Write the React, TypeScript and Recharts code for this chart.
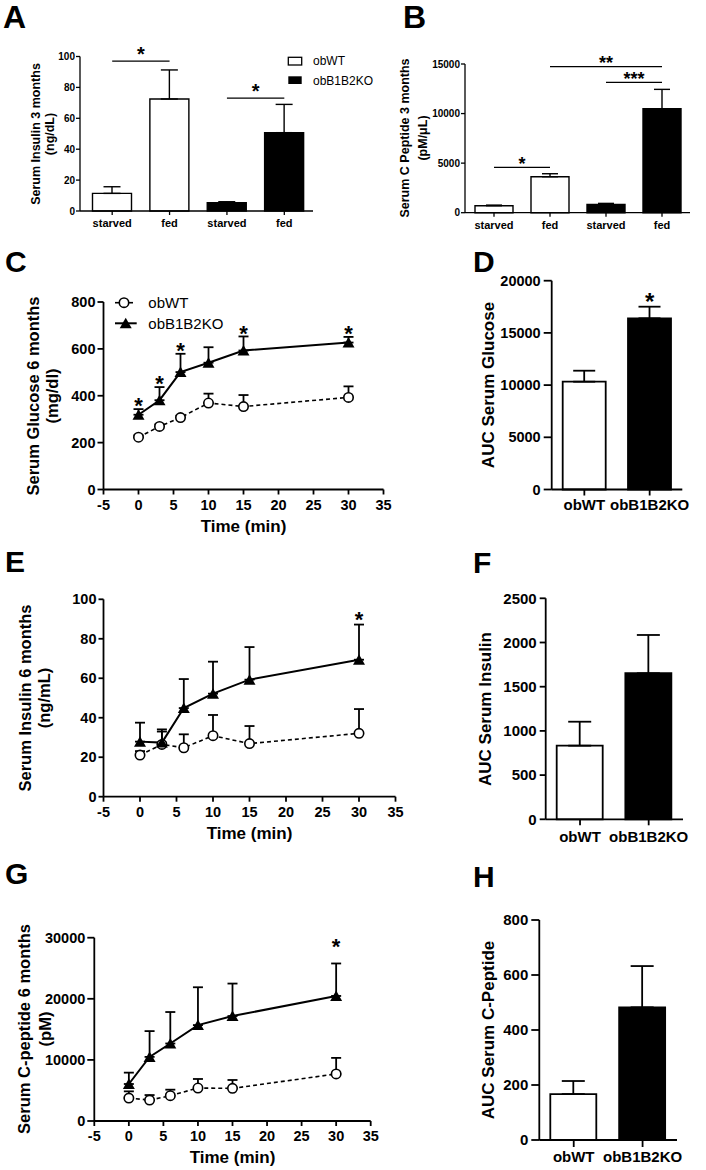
import React from "react";
import {
  BarChart,
  Bar,
  ComposedChart,
  Line,
  XAxis,
  YAxis,
  ErrorBar,
  Cell,
  ReferenceLine,
  ReferenceDot,
} from "recharts";

const W = 706;
const H = 1170;
const Y_W = 50;
const X_H = 50;
const INK = "#000";

// ---- 3 months, starved vs fed (A, B)
const feedGroups = ["obWT|starved", "obWT|fed", "obB1B2KO|starved", "obB1B2KO|fed"];
const insulin3Mean = [11.4, 72.5, 5.4, 50.7];
const insulin3Sem = [4.3, 18.8, 0.6, 18.3];
const cpeptide3Mean = [706, 3631, 840, 10491];
const cpeptide3Sem = [60, 300, 100, 1950];
const insulin3Brackets = [
  { from: "obWT|starved", to: "obWT|fed", y: 97, mark: "*" },
  { from: "obB1B2KO|starved", to: "obB1B2KO|fed", y: 73, mark: "*" },
];
const cpeptide3Brackets = [
  { from: "obWT|starved", to: "obWT|fed", y: 4573, mark: "*" },
  { from: "obWT|fed", to: "obB1B2KO|fed", y: 14728, mark: "**" },
  { from: "obB1B2KO|starved", to: "obB1B2KO|fed", y: 13147, mark: "***" },
];

// ---- 6 months time course (C, E, G)
const minutes = [0, 3, 6, 10, 15, 30];
const timeTicks = [-5, 0, 5, 10, 15, 20, 25, 30, 35];
const glucoseWT = [223, 269, 307, 369, 354, 393];
const glucoseWTSem = [8, 9, 8, 40, 49, 47];
const glucoseKO = [319, 381, 501, 541, 593, 627];
const glucoseKOSem = [24, 56, 78, 66, 60, 24];
const glucoseStars = [0, 3, 6, 15, 30];
const insulinWT = [21.1, 26.5, 24.8, 30.9, 26.9, 32.1];
const insulinWTSem = [2, 6.5, 6.8, 10.5, 8.9, 12.3];
const insulinKO = [27.9, 27.4, 44.9, 52.2, 59.3, 69.4];
const insulinKOSem = [9.6, 6.7, 14.7, 16.2, 16.5, 17.8];
const insulinStars = [30];
const cpeptideWT = [3753, 3425, 4137, 5397, 5342, 7699];
const cpeptideWTSem = [1100, 820, 990, 1480, 1370, 2630];
const cpeptideKO = [6055, 10493, 12685, 15699, 17178, 20466];
const cpeptideKOSem = [1860, 4220, 5150, 6190, 5315, 5315];
const cpeptideStars = [30];

// ---- AUC (D, F, H)
const genotypes = ["obWT", "obB1B2KO"];
const aucGlucose = [10326, 16398];
const aucGlucoseSem = [1053, 1112];
const aucGlucoseStars = ["obB1B2KO"];
const aucInsulin = [833, 1652];
const aucInsulinSem = [271, 433];
const aucCpeptide = [167, 482.5];
const aucCpeptideSem = [47.5, 150];

type Rect = { x0: number; y0: number; x1: number; y1: number };

const layer: React.CSSProperties = { position: "absolute", left: 0, top: 0 };

// every chart covers the whole page, so the plot box is placed through margins
const marginFor = (r: Rect) => ({
  left: r.x0 - Y_W,
  top: r.y0,
  right: W - r.x1,
  bottom: H - r.y1 - X_H,
});

function PanelLetter({ x, y, size = 30, children }: any) {
  return (
    <text x={x} y={y} fontSize={size} fontWeight="bold" fill={INK}>
      {children}
    </text>
  );
}

function AxisTitle({ lines, xs, cy, size }: any) {
  return (
    <g>
      {lines.map((t: string, i: number) => (
        <text
          key={t}
          x={xs[i]}
          y={cy}
          transform={`rotate(-90 ${xs[i]} ${cy})`}
          textAnchor="middle"
          dominantBaseline="central"
          fontSize={size}
          fontWeight="bold"
          fill={INK}
        >
          {t}
        </text>
      ))}
    </g>
  );
}

const starAt = (lift: number, size: number) => (p: any) => (
  <text
    x={p.cx}
    y={p.cy - lift + 0.55 * size}
    textAnchor="middle"
    fontSize={size}
    fontWeight="bold"
    fill={INK}
  >
    *
  </text>
);

const bracketShape = (mark: string, lift: number, size: number, sw: number) => (p: any) => (
  <g>
    <line x1={p.x1} y1={p.y1} x2={p.x2} y2={p.y2} stroke={INK} strokeWidth={sw} />
    <text
      x={(p.x1 + p.x2) / 2}
      y={p.y1 - lift + 0.55 * size}
      textAnchor="middle"
      fontSize={size}
      fontWeight="bold"
      fill={INK}
    >
      {mark}
    </text>
  </g>
);

const Circle = ({ cx, cy }: any) => (
  <circle cx={cx} cy={cy} r={4.7} fill="#fff" stroke={INK} strokeWidth={1.6} />
);
const Triangle = ({ cx, cy }: any) => (
  <polygon
    points={`${cx - 6},${cy + 5} ${cx + 6},${cy + 5} ${cx},${cy - 5.5}`}
    fill={INK}
  />
);

const openCircle = (p: any) =>
  p.cx == null ? <g key={`o${p.index}`} /> : <Circle key={`o${p.index}`} cx={p.cx} cy={p.cy} />;
const solidTriangle = (p: any) =>
  p.cx == null ? <g key={`t${p.index}`} /> : <Triangle key={`t${p.index}`} cx={p.cx} cy={p.cy} />;

function BarPanel(p: any) {
  const data = p.ids.map((id: string, i: number) => ({ id, mean: p.mean[i], err: [0, p.sem[i]] }));
  const axis = { stroke: INK, strokeWidth: p.axisW };
  return (
    <div style={layer}>
      <BarChart width={W} height={H} data={data} margin={marginFor(p.rect)}>
        <XAxis
          dataKey="id"
          type="category"
          height={X_H}
          padding={{ left: p.padL || 0, right: 0 }}
          interval={0}
          tickFormatter={(v: string) => v.split("|").pop() as string}
          tick={{ fill: INK, fontSize: p.xFont, fontWeight: "bold" }}
          tickSize={p.xTick[0]}
          tickMargin={p.xTick[1]}
          axisLine={axis}
          tickLine={axis}
        />
        <YAxis
          type="number"
          width={Y_W}
          domain={[0, p.yTicks[p.yTicks.length - 1]]}
          ticks={p.yTicks}
          interval={0}
          tick={{ fill: INK, fontSize: p.yFont, fontWeight: "bold" }}
          tickSize={p.yTick[0]}
          tickMargin={p.yTick[1]}
          axisLine={axis}
          tickLine={axis}
        />
        <Bar dataKey="mean" barSize={p.barSize} strokeWidth={p.barW} isAnimationActive={false}>
          {data.map((d: any) => (
            <Cell key={d.id} fill={d.id.startsWith("obB1B2KO") ? INK : "#fff"} stroke={INK} />
          ))}
          <ErrorBar dataKey="err" direction="y" width={p.cap} stroke={INK} strokeWidth={p.barW} />
        </Bar>
        {(p.brackets || []).map((b: any) => (
          <ReferenceLine
            key={b.mark + b.from}
            segment={[{ x: b.from, y: b.y }, { x: b.to, y: b.y }]}
            ifOverflow="visible"
            shape={bracketShape(b.mark, p.lift, p.starFont, p.axisW)}
          />
        ))}
        {(p.stars || []).map((id: string) => {
          const i = p.ids.indexOf(id);
          return (
            <ReferenceDot
              key={id}
              x={id}
              y={p.mean[i] + p.sem[i]}
              r={0}
              ifOverflow="visible"
              shape={starAt(p.lift, p.starFont)}
            />
          );
        })}
        {p.children}
      </BarChart>
    </div>
  );
}

function TimePanel(p: any) {
  const data = minutes.map((t, i) => ({
    t,
    wt: p.wt[i],
    wtErr: [0, p.wtSem[i]],
    ko: p.ko[i],
    koErr: [0, p.koSem[i]],
  }));
  const axis = { stroke: INK, strokeWidth: 1.8 };
  const tick = { fill: INK, fontSize: 14.5, fontWeight: "bold" };
  return (
    <div style={layer}>
      <ComposedChart width={W} height={H} data={data} margin={marginFor(p.rect)}>
        <XAxis
          dataKey="t"
          type="number"
          domain={[-5, 35]}
          ticks={timeTicks}
          interval={0}
          height={X_H}
          tick={tick}
          tickSize={5}
          tickMargin={5}
          axisLine={axis}
          tickLine={axis}
          label={{
            value: "Time (min)",
            position: "insideBottom",
            offset: 8,
            fill: INK,
            fontSize: 17,
            fontWeight: "bold",
          }}
        />
        <YAxis
          type="number"
          width={Y_W}
          domain={[0, p.yTicks[p.yTicks.length - 1]]}
          ticks={p.yTicks}
          interval={0}
          tick={tick}
          tickSize={p.yTick[0]}
          tickMargin={p.yTick[1]}
          axisLine={axis}
          tickLine={axis}
        />
        <Line
          dataKey="wt"
          type="linear"
          stroke={INK}
          strokeWidth={1.6}
          strokeDasharray="4 3"
          dot={openCircle}
          activeDot={false}
          isAnimationActive={false}
        >
          <ErrorBar dataKey="wtErr" direction="y" width={5} stroke={INK} strokeWidth={1.8} />
        </Line>
        <Line
          dataKey="ko"
          type="linear"
          stroke={INK}
          strokeWidth={2}
          dot={solidTriangle}
          activeDot={false}
          isAnimationActive={false}
        >
          <ErrorBar dataKey="koErr" direction="y" width={5} stroke={INK} strokeWidth={1.8} />
        </Line>
        {p.stars.map((t: number) => {
          const i = minutes.indexOf(t);
          return (
            <ReferenceDot
              key={t}
              x={t}
              y={p.ko[i] + p.koSem[i]}
              r={0}
              ifOverflow="visible"
              shape={starAt(p.lift, 22)}
            />
          );
        })}
        {p.children}
      </ComposedChart>
    </div>
  );
}

export default function App() {
  return (
    <div
      style={{
        position: "absolute",
        left: 0,
        top: 0,
        width: W,
        height: H,
        background: "#fff",
        overflow: "hidden",
        fontFamily: '"Liberation Sans", Arial, Helvetica, sans-serif',
      }}
    >
      {/* A */}
      <BarPanel
        ids={feedGroups}
        mean={insulin3Mean}
        sem={insulin3Sem}
        rect={{ x0: 80, y0: 56.5, x1: 313, y1: 211 }}
        padL={3.5}
        yTicks={[0, 20, 40, 60, 80, 100]}
        barSize={39}
        cap={8.5}
        barW={1.4}
        axisW={1.3}
        xFont={11}
        yFont={10}
        xTick={[4, 4]}
        yTick={[4, 1]}
        brackets={insulin3Brackets}
        lift={11}
        starFont={20}
      >
        <PanelLetter x={3} y={28} size={32}>A</PanelLetter>
        <AxisTitle lines={["Serum Insulin 3 months", "(ng/dL)"]} xs={[36, 50]} cy={134} size={12.5} />
        <rect x={288.3} y={57.3} width={13.4} height={7.7} fill="#fff" stroke={INK} strokeWidth={1.3} />
        <text x={313} y={61} dominantBaseline="central" fontSize={12} fill={INK}>obWT</text>
        <rect x={288.3} y={76.3} width={13.4} height={7.7} fill={INK} />
        <text x={313} y={80.5} dominantBaseline="central" fontSize={12} fill={INK}>obB1B2KO</text>
      </BarPanel>

      {/* B */}
      <BarPanel
        ids={feedGroups}
        mean={cpeptide3Mean}
        sem={cpeptide3Sem}
        rect={{ x0: 465, y0: 64, x1: 690, y1: 212.7 }}
        padL={1}
        yTicks={[0, 5000, 10000, 15000]}
        barSize={38}
        cap={8}
        barW={1.4}
        axisW={1.3}
        xFont={11}
        yFont={10}
        xTick={[4, 4]}
        yTick={[4, 1]}
        brackets={cpeptide3Brackets}
        lift={7.5}
        starFont={18}
      >
        <PanelLetter x={403} y={28} size={32}>B</PanelLetter>
        <AxisTitle lines={["Serum C Peptide 3 months", "(pM/μL)"]} xs={[405, 423]} cy={138} size={12.5} />
      </BarPanel>

      {/* C */}
      <TimePanel
        wt={glucoseWT}
        wtSem={glucoseWTSem}
        ko={glucoseKO}
        koSem={glucoseKOSem}
        stars={glucoseStars}
        rect={{ x0: 103.5, y0: 302, x1: 383.5, y1: 489.5 }}
        yTicks={[0, 200, 400, 600, 800]}
        yTick={[6, 2]}
        lift={8}
      >
        <PanelLetter x={5} y={272}>C</PanelLetter>
        <AxisTitle lines={["Serum Glucose 6 months", "(mg/dl)"]} xs={[33, 52]} cy={396} size={16.5} />
        <line x1={115} y1={302.7} x2={119.5} y2={302.7} stroke={INK} strokeWidth={1.6} />
        <line x1={128.5} y1={302.7} x2={133} y2={302.7} stroke={INK} strokeWidth={1.6} />
        <Circle cx={124} cy={302.7} />
        <text x={148.3} y={302.7} dominantBaseline="central" fontSize={15} fill={INK}>obWT</text>
        <line x1={115} y1={323.3} x2={136.7} y2={323.3} stroke={INK} strokeWidth={2} />
        <Triangle cx={125.7} cy={323.3} />
        <text x={148.3} y={323.3} dominantBaseline="central" fontSize={15} fill={INK}>obB1B2KO</text>
      </TimePanel>

      {/* D */}
      <BarPanel
        ids={genotypes}
        mean={aucGlucose}
        sem={aucGlucoseSem}
        rect={{ x0: 551.7, y0: 280.7, x1: 682.3, y1: 489.5 }}
        yTicks={[0, 5000, 10000, 15000, 20000]}
        barSize={43}
        cap={11}
        barW={1.8}
        axisW={1.8}
        xFont={15}
        yFont={14.5}
        xTick={[6, 4]}
        yTick={[8, 3]}
        stars={aucGlucoseStars}
        lift={10}
        starFont={24}
      >
        <PanelLetter x={473} y={272}>D</PanelLetter>
        <AxisTitle lines={["AUC Serum Glucose"]} xs={[488]} cy={385} size={17} />
      </BarPanel>

      {/* E */}
      <TimePanel
        wt={insulinWT}
        wtSem={insulinWTSem}
        ko={insulinKO}
        koSem={insulinKOSem}
        stars={insulinStars}
        rect={{ x0: 103.5, y0: 599.3, x1: 395.5, y1: 796.7 }}
        yTicks={[0, 20, 40, 60, 80, 100]}
        yTick={[5, 2]}
        lift={10}
      >
        <PanelLetter x={5} y={572}>E</PanelLetter>
        <AxisTitle lines={["Serum Insulin 6 months", "(ng/mL)"]} xs={[25, 44]} cy={698} size={16.5} />
      </TimePanel>

      {/* F */}
      <BarPanel
        ids={genotypes}
        mean={aucInsulin}
        sem={aucInsulinSem}
        rect={{ x0: 545.7, y0: 598.3, x1: 683, y1: 819.3 }}
        yTicks={[0, 500, 1000, 1500, 2000, 2500]}
        barSize={46}
        cap={11.5}
        barW={1.8}
        axisW={1.8}
        xFont={15}
        yFont={15}
        xTick={[6, 6]}
        yTick={[6, 3]}
      >
        <PanelLetter x={473} y={573}>F</PanelLetter>
        <AxisTitle lines={["AUC Serum Insulin"]} xs={[485]} cy={709} size={17} />
      </BarPanel>

      {/* G */}
      <TimePanel
        wt={cpeptideWT}
        wtSem={cpeptideWTSem}
        ko={cpeptideKO}
        koSem={cpeptideKOSem}
        stars={cpeptideStars}
        rect={{ x0: 94.3, y0: 937.7, x1: 370.7, y1: 1121 }}
        yTicks={[0, 10000, 20000, 30000]}
        yTick={[7, 2]}
        lift={22}
      >
        <PanelLetter x={5} y={884}>G</PanelLetter>
        <AxisTitle lines={["Serum C-peptide 6 months", "(pM)"]} xs={[24, 45]} cy={1029} size={16.5} />
      </TimePanel>

      {/* H */}
      <BarPanel
        ids={genotypes}
        mean={aucCpeptide}
        sem={aucCpeptideSem}
        rect={{ x0: 539.3, y0: 920, x1: 677, y1: 1140 }}
        yTicks={[0, 200, 400, 600, 800]}
        barSize={46}
        cap={11.5}
        barW={1.8}
        axisW={1.8}
        xFont={15}
        yFont={15}
        xTick={[7, 4.5]}
        yTick={[8, 3]}
      >
        <PanelLetter x={473} y={887}>H</PanelLetter>
        <AxisTitle lines={["AUC Serum C-Peptide"]} xs={[488]} cy={1030} size={17} />
      </BarPanel>
    </div>
  );
}
